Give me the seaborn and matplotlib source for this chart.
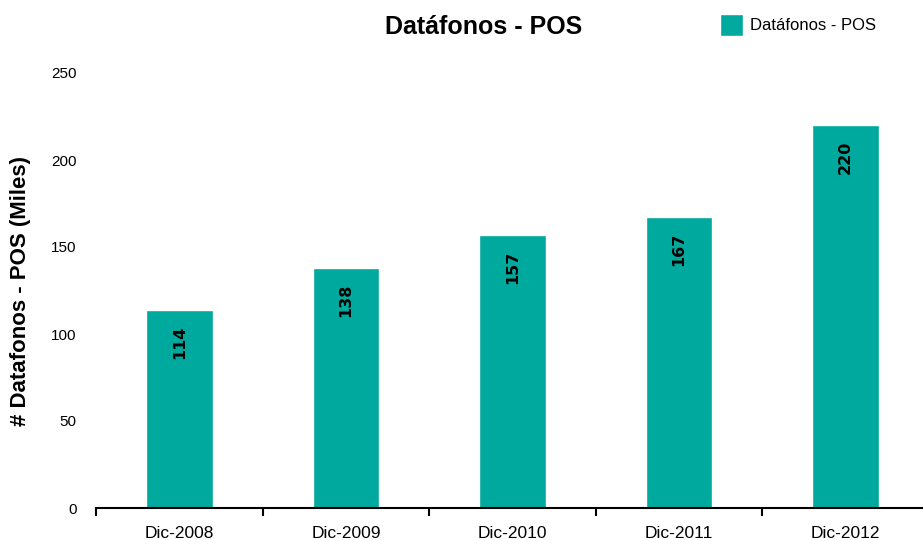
import matplotlib
matplotlib.use("Agg")
import matplotlib.pyplot as plt
import pandas as pd
import seaborn as sns
from matplotlib.patches import Patch

# data
periodos = ["Dic-2008", "Dic-2009", "Dic-2010", "Dic-2011", "Dic-2012"]
datafonos = [114, 138, 157, 167, 220]

df = pd.DataFrame({"periodo": periodos, "datafonos": datafonos})

sns.set_style("white")
plt.rcParams['font.family'] = ['Liberation Sans', 'DejaVu Sans']
plt.rcParams['text.color'] = 'black'
plt.rcParams['xtick.color'] = 'black'
plt.rcParams['ytick.color'] = 'black'
plt.rcParams['axes.labelcolor'] = 'black'

color = "#00A99D"

fig = plt.figure(figsize=(9.23, 5.40), dpi=100)
ax = fig.add_axes([96 / 923, 32 / 540, 833 / 923, 435 / 540])

sns.barplot(data=df, x="periodo", y="datafonos", color=color, width=0.4,
            saturation=1, ax=ax)

ax.set_xlim(-0.5, len(periodos) - 0.5)
ax.set_ylim(0, 250)
ax.set_yticks(range(0, 251, 50))
ax.tick_params(axis="y", length=0, labelsize=11, pad=14)
ax.set_xticks(range(len(periodos)))
ax.tick_params(axis="x", which="major", length=0, labelsize=12.5, pad=13)
ax.set_xticks([i - 0.5 for i in range(len(periodos) + 1)], minor=True)
ax.tick_params(axis="x", which="minor", bottom=True, length=6, width=1.5,
               color="black", direction="out")

for s in ["top", "right", "left"]:
    ax.spines[s].set_visible(False)
ax.spines["bottom"].set_color("black")
ax.spines["bottom"].set_linewidth(1.5)

ax.set_xlabel("")
ax.set_ylabel("# Datafonos - POS (Miles)", fontsize=16, fontweight="bold")
ax.yaxis.set_label_coords(-0.078, 0.5)

# value labels inside the bars
for i, v in enumerate(datafonos):
    ax.text(i, v - 9, str(v), rotation=90, ha="center", va="top",
            fontsize=11.5, fontweight="bold", family="DejaVu Sans")

fig.text(484 / 923, 1 - 27 / 540, "Datáfonos - POS", ha="center", va="center",
         fontsize=18, fontweight="bold")

fig.legend(handles=[Patch(facecolor=color, label="Datáfonos - POS")],
           loc="center left", bbox_to_anchor=(705 / 923, 1 - 25 / 540),
           frameon=False, fontsize=12, handlelength=1.4, handleheight=1.6,
           handletextpad=0.4)

fig.savefig("out.png", dpi=100)
